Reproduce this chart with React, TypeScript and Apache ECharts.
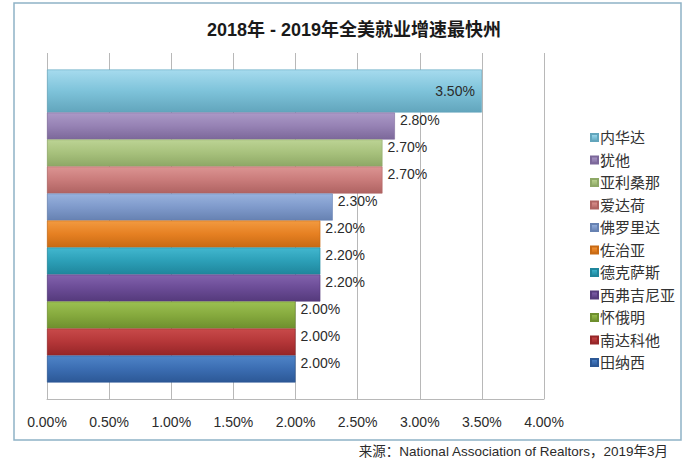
import React, { useEffect, useRef } from "react";
import * as echarts from "echarts";

const states = ["内华达", "犹他", "亚利桑那", "爱达荷", "佛罗里达", "佐治亚", "德克萨斯", "西弗吉尼亚", "怀俄明", "南达科他", "田纳西"];
const growth = [3.5, 2.8, 2.7, 2.7, 2.3, 2.2, 2.2, 2.2, 2.0, 2.0, 2.0];
const category = ["2018-2019"];
const xMin = 0;
const xMax = 4;
const xInterval = 0.5;
const titleText = "2018年 - 2019年全美就业增速最快州";
const sourceText = "来源：National Association of Realtors，2019年3月";

// [top, middle, bottom] shades for 3D-ish bars
const palette: string[][] = [
  ["#a6dbee", "#7ec3da", "#62a5bc"],
  ["#ab99c7", "#9682b4", "#7c689a"],
  ["#bcd394", "#a7c17c", "#8ea866"],
  ["#dc9492", "#c97b7a", "#af6362"],
  ["#98b2dd", "#7f9acb", "#6782b2"],
  ["#f29a40", "#e68022", "#c86a14"],
  ["#42b7cf", "#2c9fb7", "#1f869c"],
  ["#8262ad", "#6b4c96", "#553a7c"],
  ["#9bc052", "#86aa3e", "#6e8f2e"],
  ["#c84a4a", "#b43638", "#962628"],
  ["#4e84c7", "#3b6db2", "#2c5896"],
];

const FONT = "'Liberation Sans', Arial, 'Noto Sans CJK SC', sans-serif";

export default function App() {
  const ref = useRef<HTMLDivElement>(null);
  useEffect(() => {
    if (!ref.current) return;
    const chart = echarts.init(ref.current, undefined, { renderer: "svg" });
    const series = states.map((name, i) => ({
      name,
      type: "bar",
      data: [growth[i]],
      barWidth: i === 0 ? 43 : 27,
      barGap: "0%",
      itemStyle: {
        color: new echarts.graphic.LinearGradient(0, 0, 0, 1, [
          { offset: 0, color: palette[i][0] },
          { offset: 0.5, color: palette[i][1] },
          { offset: 1, color: palette[i][2] },
        ]),
        borderColor: palette[i][2],
        borderWidth: 0.6,
      },
      label: {
        show: true,
        position: i === 0 ? "insideRight" : "right",
        distance: i === 0 ? 7 : 5,
        offset: i === 0 ? [0, 0] : [0, -6],
        formatter: (p: any) => p.value.toFixed(2) + "%",
        color: "#2b2b2b",
        fontSize: 14,
        fontFamily: FONT,
      },
      emphasis: { disabled: true },
    }));
    chart.setOption({
      animation: false,
      backgroundColor: "#ffffff",
      title: {
        text: titleText,
        left: 349,
        textAlign: "center",
        top: 16,
        textStyle: { fontSize: 18, fontWeight: "bold", color: "#1a1a1a", fontFamily: FONT },
      },
      legend: {
        data: states,
        orient: "vertical",
        left: 585,
        top: 125,
        itemWidth: 7,
        itemHeight: 7,
        itemGap: 7.5,
        icon: "rect",
        textStyle: { fontSize: 15, lineHeight: 15, color: "#333", fontFamily: FONT, padding: [0, 0, 0, -3] },
      },
      grid: { left: 47, right: 146, top: 53, bottom: 64, containLabel: false },
      xAxis: {
        type: "value",
        min: xMin,
        max: xMax,
        interval: xInterval,
        axisLine: { show: true, lineStyle: { color: "#b8b8b8", width: 1 } },
        axisTick: { show: false },
        splitLine: { show: true, lineStyle: { color: "#b8b8b8", width: 1 } },
        axisLabel: {
          formatter: (v: number) => v.toFixed(2) + "%",
          fontSize: 14,
          color: "#2b2b2b",
          margin: 16,
          fontFamily: FONT,
        },
      },
      yAxis: {
        type: "category",
        data: category,
        axisLine: { show: false },
        axisTick: { show: false },
        axisLabel: { show: false },
        splitLine: { show: false },
      },
      series,
      graphic: [
        {
          type: "rect",
          shape: { x: 14, y: 3, width: 667, height: 437 },
          style: { fill: "none", stroke: "#8fb2c6", lineWidth: 1.5 },
          silent: true,
          z: -1,
        },
        {
          type: "text",
          x: 668,
          y: 451,
          style: {
            text: sourceText,
            align: "right",
            verticalAlign: "middle",
            fontSize: 13.5,
            fill: "#2b2b2b",
            fontFamily: FONT,
          },
          silent: true,
        },
      ],
    });
    return () => chart.dispose();
  }, []);
  return (
    <div
      ref={ref}
      style={{ position: "fixed", left: 0, top: 0, width: 690, height: 463 }}
    />
  );
}
